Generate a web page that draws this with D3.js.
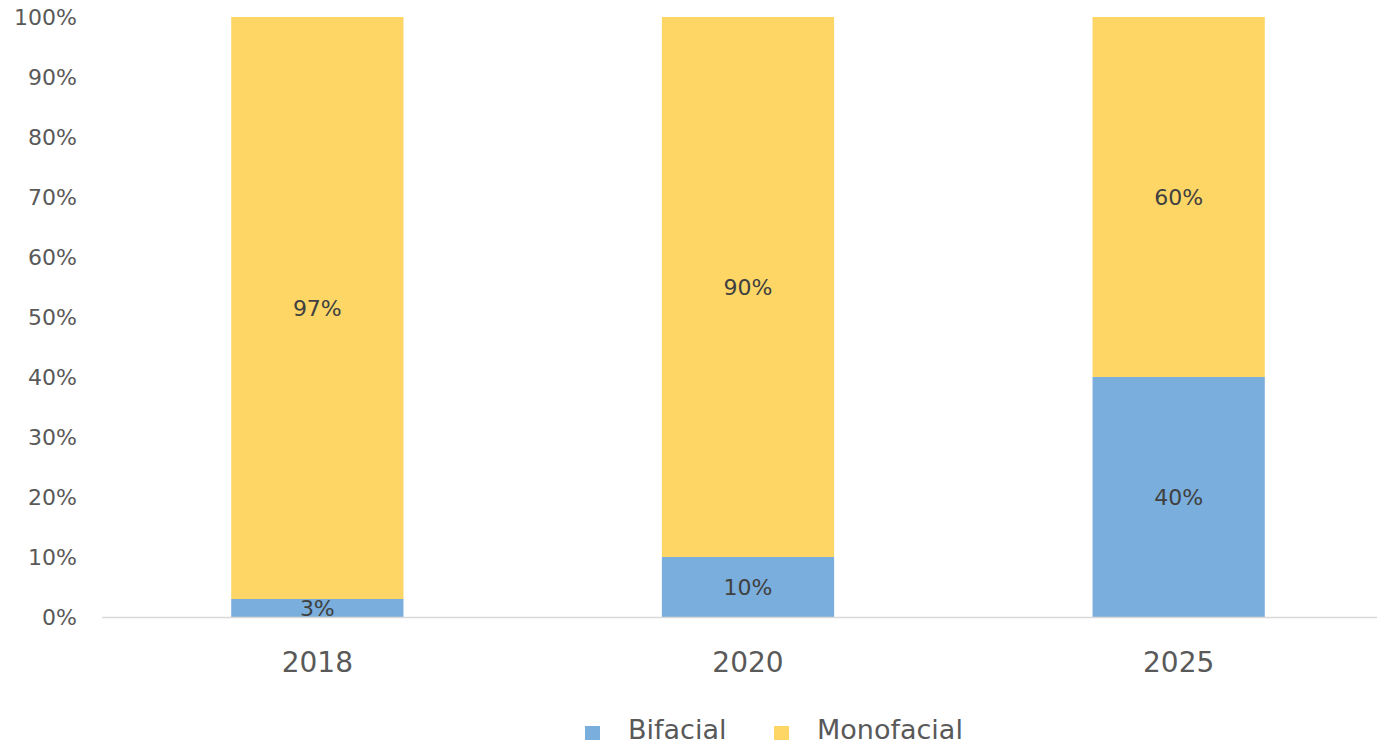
<!DOCTYPE html>
<html>
<head>
<meta charset="utf-8">
<script src="https://cdn.jsdelivr.net/npm/d3@7"></script>
<style>
  html, body { margin: 0; padding: 0; background: #fff; }
  svg { display: block; font-family: "DejaVu Sans", Verdana, sans-serif; }
</style>
</head>
<body>
<svg id="chart" width="1377" height="747"></svg>
<script>
// Share of module technology by year (percent)
const years = ["2018", "2020", "2025"];
const bifacial = [3, 10, 40];
const monofacial = [97, 90, 60];
const seriesNames = ["Bifacial", "Monofacial"];
const seriesColors = ["#7aaedc", "#fdd666"];
const yTicks = [0, 10, 20, 30, 40, 50, 60, 70, 80, 90, 100];

const svg = d3.select("#chart");

const x = d3.scaleBand()
  .domain(years)
  .range([102, 1394])
  .paddingInner(0.6)
  .paddingOuter(0.3);

const y = d3.scaleLinear().domain([0, 100]).range([617, 17]);

const rows = years.map((yr, i) => ({ year: yr, Bifacial: bifacial[i], Monofacial: monofacial[i] }));
const stacked = d3.stack().keys(seriesNames)(rows);

// y-axis labels
svg.append("g").selectAll("text")
  .data(yTicks)
  .join("text")
  .attr("x", 77)
  .attr("y", d => y(d))
  .attr("dy", "0.36em")
  .attr("text-anchor", "end")
  .attr("fill", "#595959")
  .attr("font-size", 22)
  .text(d => d + "%");

// stacked bars
const layers = svg.append("g").selectAll("g")
  .data(stacked)
  .join("g")
  .attr("fill", (d, i) => seriesColors[i]);

layers.selectAll("rect")
  .data(d => d)
  .join("rect")
  .attr("x", d => x(d.data.year))
  .attr("width", x.bandwidth())
  .attr("y", d => y(d[1]))
  .attr("height", d => y(d[0]) - y(d[1]));

// baseline
svg.append("line")
  .attr("x1", 102).attr("x2", 1377)
  .attr("y1", y(0) + 0.5).attr("y2", y(0) + 0.5)
  .attr("stroke", "#d9d9d9")
  .attr("stroke-width", 1.5);

// value labels centred in each segment
layers.selectAll("text")
  .data(d => d.map(p => ({ p, key: d.key })))
  .join("text")
  .attr("x", d => x(d.p.data.year) + x.bandwidth() / 2)
  .attr("y", d => (y(d.p[0]) + y(d.p[1])) / 2)
  .attr("dy", "0.36em")
  .attr("text-anchor", "middle")
  .attr("fill", "#404040")
  .attr("font-size", 22)
  .text(d => d.p.data[d.key] + "%");

// x-axis labels
svg.append("g").selectAll("text")
  .data(years)
  .join("text")
  .attr("x", d => x(d) + x.bandwidth() / 2)
  .attr("y", 672)
  .attr("text-anchor", "middle")
  .attr("fill", "#595959")
  .attr("font-size", 28)
  .text(d => d);

// legend
const legendX = [585, 774];
const legend = svg.append("g").selectAll("g")
  .data(seriesNames)
  .join("g")
  .attr("transform", (d, i) => `translate(${legendX[i]},726)`);

legend.append("rect")
  .attr("width", 15).attr("height", 14)
  .attr("fill", (d, i) => seriesColors[i]);

legend.append("text")
  .attr("x", 43)
  .attr("y", 13)
  .attr("fill", "#595959")
  .attr("font-size", 27)
  .text(d => d);
</script>
</body>
</html>
